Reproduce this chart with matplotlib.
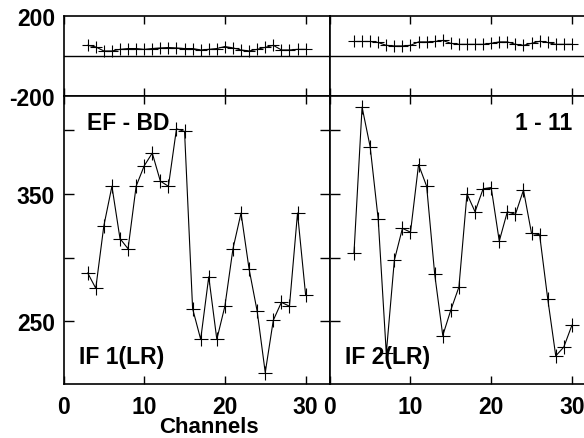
import matplotlib.pyplot as plt

# channels plotted in both IFs
channels = list(range(3, 31))

# phase (top strip), degrees
phase_if1 = [53, 45, 25, 25, 33, 37, 37, 33, 37, 40, 42, 40, 37, 37,
             30, 33, 37, 47, 40, 30, 25, 33, 43, 53, 30, 30, 33, 33]
phase_if2 = [72, 72, 72, 67, 53, 50, 50, 53, 70, 70, 72, 77, 63, 58,
             58, 58, 58, 63, 70, 70, 58, 53, 63, 73, 67, 58, 58, 58]

# amplitude (main panel)
amp_if1 = [288, 276, 325, 356, 315, 307, 356, 372, 382, 360, 356, 401, 399, 260,
           236, 285, 236, 262, 307, 335, 291, 258, 210, 251, 265, 262, 335, 271]
amp_if2 = [304, 418, 387, 330, 225, 298, 323, 320, 373, 356, 287, 239, 259, 277,
           350, 336, 354, 355, 313, 336, 334, 353, 319, 318, 268, 223, 230, 247]

baseline = 'EF - BD'
time_label = '1 - 11'
if_labels = ['IF 1(LR)', 'IF 2(LR)']
xticks = [0, 10, 20, 30]
amp_ticks = [250, 300, 350, 400]
amp_ticklabels = ['250', '', '350', '']
phase_ticks = [-200, 200]

W, H = 584, 439
plt.rcParams['font.family'] = ['Liberation Sans', 'DejaVu Sans']
plt.rcParams['font.weight'] = 'bold'
plt.rcParams['font.size'] = 16.5

fig = plt.figure(figsize=(W / 100, H / 100), dpi=100)

def px(x, y):
    return x / W, 1 - y / H

x0 = 63.5 / W
pw = 266.3 / W
top_y0, top_h = (H - 97.3) / H, 80.6 / H
bot_y0, bot_h = (H - 385) / H, 287.7 / H

phases = [phase_if1, phase_if2]
amps = [amp_if1, amp_if2]

for i in range(2):
    left = x0 + i * pw
    axt = fig.add_axes([left, top_y0, pw, top_h])
    axb = fig.add_axes([left, bot_y0, pw, bot_h])

    axt.plot(channels, phases[i], color='black', lw=0.8, marker='+',
             ms=9, mew=0.8)
    axt.axhline(0, color='black', lw=1.0)
    axt.set_xlim(0, 33)
    axt.set_ylim(-200, 200)
    axt.set_xticks(xticks)
    axt.set_xticklabels([])
    axt.set_yticks(phase_ticks)
    axt.tick_params(axis='x', direction='in', top=True, bottom=True,
                    length=5.5, width=1)
    axt.tick_params(axis='y', length=0, pad=6)
    if i == 0:
        axt.set_yticklabels([str(t) for t in phase_ticks])
    else:
        axt.set_yticklabels([])

    axb.plot(channels, amps[i], color='black', lw=0.8, marker='+',
             ms=10, mew=0.8)
    axb.set_xlim(0, 33)
    axb.set_ylim(201, 426.5)
    axb.set_xticks(xticks)
    axb.set_xticklabels([str(t) for t in xticks])
    axb.set_yticks(amp_ticks)
    axb.tick_params(axis='x', direction='in', top=True, bottom=True,
                    length=6, width=1, pad=8)
    axb.tick_params(axis='y', direction='in', left=True, right=True,
                    length=7, width=1, pad=6)
    if i == 0:
        axb.set_yticklabels(amp_ticklabels)
    else:
        axb.set_yticklabels([])

    for ax in (axt, axb):
        for s in ax.spines.values():
            s.set_linewidth(1.2)

fig.text(*px(87, 130), baseline, ha='left', va='baseline')
fig.text(*px(572, 130), time_label, ha='right', va='baseline')
fig.text(*px(79, 364), if_labels[0], ha='left', va='baseline')
fig.text(*px(345, 364), if_labels[1], ha='left', va='baseline')
fig.text(*px(208.5, 433.5), 'Channels', ha='center', va='baseline', fontsize=16)

fig.savefig('out.png', dpi=100)
